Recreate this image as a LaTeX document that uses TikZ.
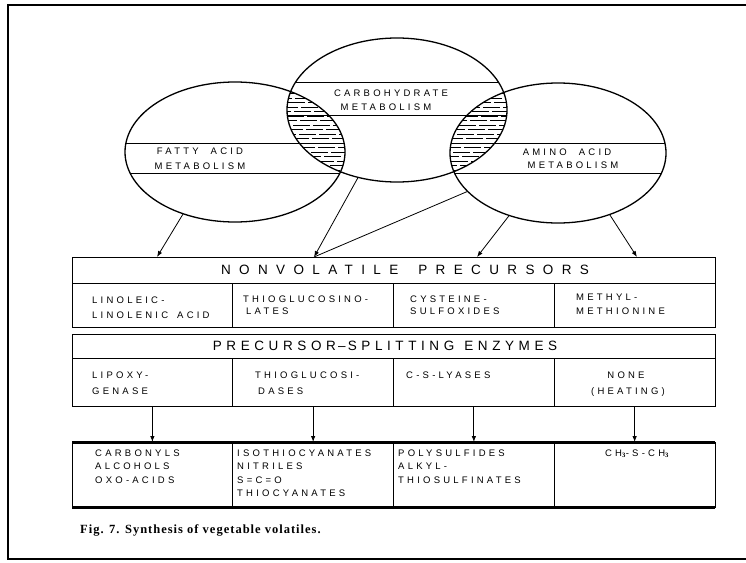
\documentclass[tikz,border=0pt]{standalone}
\usepackage{fontspec}
\setmainfont{Liberation Serif}
\newfontfamily\lett[LetterSpace=34]{Liberation Sans}
\newfontfamily\titlef[LetterSpace=62]{Liberation Sans}
\newfontfamily\titleg[LetterSpace=34]{Liberation Sans}
\newfontfamily\capf[LetterSpace=8]{Liberation Serif}
\usetikzlibrary{shapes.geometric,arrows.meta,calc}
\begin{document}
\begin{tikzpicture}[x=1pt,y=-1pt,
  ell/.style={ellipse,draw,line width=1.3pt,inner sep=0pt,outer sep=0pt},
  cell/.style={draw,line width=0.9pt,anchor=north west,inner sep=0pt,outer sep=0pt,minimum width=160.75pt,minimum height=#1},
  lbl/.style={font=\lett\fontsize{9.5}{14}\selectfont,inner sep=0pt,anchor=base west},
  clbl/.style={font=\lett\fontsize{9.5}{14}\selectfont,inner sep=0pt,anchor=base},
  arr/.style={line width=0.8pt,-{Latex[length=6pt,width=4.5pt]}},
  band/.style={line width=0.8pt},
  hatch/.style={line width=0.5pt,dash pattern=on 17pt off 3pt}]
\useasboundingbox (0,0) rectangle (746,562);
\draw[line width=1.8pt] (747,5) -- (8,5) -- (8,559) -- (747,559);

% hatched overlaps
\begin{scope}
  \clip (235,152) ellipse [x radius=110pt, y radius=70pt];
  \clip (397,110) ellipse [x radius=110pt, y radius=72pt];
  \foreach \yy [count=\k] in {80,84.5,...,192} \draw[hatch,dash phase=\k*7pt] (270,\yy) -- (360,\yy);
\end{scope}
\begin{scope}
  \clip (558,153) ellipse [x radius=108pt, y radius=70pt];
  \clip (397,110) ellipse [x radius=110pt, y radius=72pt];
  \foreach \yy [count=\k] in {80,84.5,...,192} \draw[hatch,dash phase=\k*11pt] (440,\yy) -- (520,\yy);
\end{scope}

% label bands
\begin{scope}
  \clip (235,152) ellipse [x radius=110pt, y radius=70pt];
  \draw[band] (100,143) -- (360,143);
  \draw[band] (100,173) -- (360,173);
\end{scope}
\begin{scope}
  \clip (397,110) ellipse [x radius=110pt, y radius=72pt];
  \draw[band] (280,82) -- (520,82);
  \draw[band] (280,115) -- (520,115);
\end{scope}
\begin{scope}
  \clip (558,153) ellipse [x radius=108pt, y radius=70pt];
  \draw[band] (440,143) -- (680,143);
  \draw[band] (440,173) -- (680,173);
\end{scope}

% circles
\node[ell,minimum width=220pt,minimum height=140pt] (fa) at (235,152) {};
\node[ell,minimum width=220pt,minimum height=144pt] (ch) at (397,110) {};
\node[ell,minimum width=216pt,minimum height=140pt] (aa) at (558,153) {};

\node[clbl] (fa1) at (200,154.4) {FATTY\hspace{12pt}ACID};
\node[clbl] (fa2) at (200,169.4) {METABOLISM};
\node[clbl] (ch1) at (391,96.4) {CARBOHYDRATE};
\node[clbl] (ch2) at (386,110.4) {METABOLISM};
\node[clbl] (aa1) at (567,155.4) {AMINO\hspace{12pt}ACID};
\node[clbl] (aa2) at (573,168.4) {METABOLISM};

% nonvolatile precursors
\node[cell=26pt,minimum width=643pt] (np) at (72,257) {};
\node[font=\titlef\fontsize{13.5}{16}\selectfont,inner sep=0pt] (npt) at (405,270) {NONVOLATILE\hspace{20pt}PRECURSORS};
\node[cell=44pt] (n1) at (72,283) {};
\node[cell=44pt] (n2) at (232.75,283) {};
\node[cell=44pt] (n3) at (393.5,283) {};
\node[cell=44pt] (n4) at (554.25,283) {};
\node[lbl] (n1a) at (92,303.4) {LINOLEIC-};
\node[lbl] (n1b) at (92,318.4) {LINOLENIC\hspace{9pt}ACID};
\node[lbl] (n2a) at (243,302.4) {THIOGLUCOSINO-};
\node[lbl] (n2b) at (246,314.4) {LATES};
\node[lbl] (n3a) at (410,302.4) {CYSTEINE-};
\node[lbl] (n3b) at (410,314.4) {SULFOXIDES};
\node[lbl] (n4a) at (576,300.4) {METHYL-};
\node[lbl] (n4b) at (576,314.4) {METHIONINE};

% precursor-splitting enzymes
\node[cell=24pt,minimum width=643pt] (ps) at (72,334) {};
\node[font=\titleg\fontsize{13.5}{16}\selectfont,inner sep=0pt] (pst) at (385,346) {PRECURSOR\,–\,SPLITTING\hspace{10pt}ENZYMES};
\node[cell=48pt] (p1) at (72,358) {};
\node[cell=48pt] (p2) at (232.75,358) {};
\node[cell=48pt] (p3) at (393.5,358) {};
\node[cell=48pt] (p4) at (554.25,358) {};
\node[lbl] (p1a) at (92,378.4) {LIPOXY-};
\node[lbl] (p1b) at (92,394.4) {GENASE};
\node[lbl] (p2a) at (255,378.4) {THIOGLUCOSI-};
\node[lbl] (p2b) at (258,394.4) {DASES};
\node[lbl] (p3a) at (406,378.4) {C-S-LYASES};
\node[clbl] (p4a) at (626,378.4) {NONE};
\node[clbl] (p4b) at (628,394.4) {(HEATING)};

% products
\node[cell=65pt] (b1) at (72,442) {};
\node[cell=65pt] (b2) at (232.75,442) {};
\node[cell=65pt] (b3) at (393.5,442) {};
\node[cell=65pt] (b4) at (554.25,442) {};
\draw[line width=3pt] (b1.north west) -- (b4.north east);
\draw[line width=3pt] (b1.south west) -- (b4.south east);
\node[lbl] (b1a) at (95,456.4) {CARBONYLS};
\node[lbl] (b1b) at (95,469.9) {ALCOHOLS};
\node[lbl] (b1c) at (95,483.4) {OXO-ACIDS};
\node[lbl] (b2a) at (237,456.4) {ISOTHIOCYANATES};
\node[lbl] (b2b) at (237,469.9) {NITRILES};
\node[lbl] (b2c) at (237,483.4) {S=C=O};
\node[lbl] (b2d) at (237,496.9) {THIOCYANATES};
\node[lbl] (b3a) at (398,456.4) {POLYSULFIDES};
\node[lbl] (b3b) at (398,469.9) {ALKYL-};
\node[lbl] (b3c) at (398,483.4) {THIOSULFINATES};
\node[clbl] (b4a) at (637,456.4) {CH$_{\mathbf{3}}$-S-CH$_{\mathbf{3}}$};

% arrows from metabolism circles
\draw[arr] (fa.-130) -- ($(np.north west)+(85,0)$);
\draw[arr] (ch.-120) -- ($(np.north west)+(242,0)$);
\draw[line width=0.8pt] (aa.-157) -- ($(np.north west)+(242,0)$);
\draw[arr] (aa.-128) -- ($(np.north west)+(405,0)$);
\draw[arr] (aa.-50) -- ($(np.north west)+(565,0)$);

% arrows enzymes -> products
\draw[arr] (p1.south) -- (b1.north);
\draw[arr] (p2.south) -- (b2.north);
\draw[arr] (p3.south) -- (b3.north);
\draw[arr] (p4.south) -- (b4.north);

\node[font=\capf\bfseries\fontsize{12.5}{14}\selectfont,inner sep=0pt,anchor=base west] (cap) at (80,533) {Fig. 7. Synthesis of vegetable volatiles.};
\end{tikzpicture}
\end{document}
